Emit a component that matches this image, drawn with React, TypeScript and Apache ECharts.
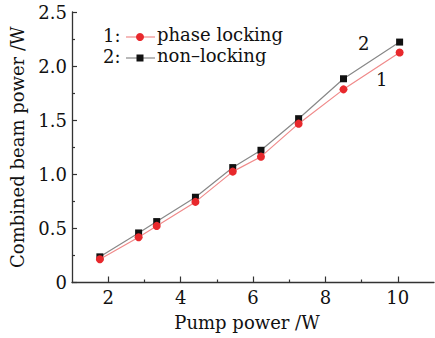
import React, { useEffect, useRef } from "react";
import * as echarts from "echarts";

const pumpPower = [1.77, 2.84, 3.34, 4.41, 5.44, 6.22, 7.26, 8.5, 10.05];
const phaseLocking = [0.215, 0.418, 0.523, 0.745, 1.025, 1.163, 1.468, 1.785, 2.126];
const nonLocking = [0.237, 0.458, 0.563, 0.788, 1.062, 1.222, 1.514, 1.883, 2.222];
const xMajorTicks = [2, 4, 6, 8, 10];
const xMinorTicks = [3, 5, 7, 9];
const legendNames = ["phase locking", "non\u2013locking"];

const FONT = "DejaVu Serif";

export default function App() {
  const ref = useRef<HTMLDivElement>(null);
  useEffect(() => {
    if (!ref.current) return;
    const chart = echarts.init(ref.current, null, { renderer: "svg" });
    const axisColor = "#333";
    chart.setOption({
      animation: false,
      backgroundColor: "#fff",
      grid: { left: 71, top: 12, right: 1, bottom: 55.5, containLabel: false },
      xAxis: [
        {
          type: "value",
          min: 1,
          max: 11,
          interval: 1,
          name: "Pump power /W",
          nameLocation: "middle",
          nameGap: 31,
          nameTextStyle: { fontFamily: FONT, fontSize: 18, color: "#111", padding: [0, 12, 0, 0] },
          axisLine: { show: true, lineStyle: { color: axisColor, width: 1.3 } },
          axisTick: { show: true, inside: true, length: 6, customValues: xMajorTicks, lineStyle: { color: axisColor, width: 1.2 } },
          axisLabel: { customValues: xMajorTicks, fontFamily: FONT, fontSize: 18, color: "#111", margin: 6 },
          splitLine: { show: false },
        },
        {
          type: "value",
          min: 1,
          max: 11,
          interval: 1,
          position: "bottom",
          axisLine: { show: false },
          axisTick: { show: true, inside: true, length: 3, customValues: xMinorTicks, lineStyle: { color: axisColor, width: 1.2 } },
          axisLabel: { show: false },
          splitLine: { show: false },
        },
      ],
      yAxis: {
        type: "value",
        min: 0,
        max: 2.5,
        interval: 0.5,
        name: "Combined beam power /W",
        nameLocation: "middle",
        nameGap: 46,
        nameTextStyle: { fontFamily: FONT, fontSize: 18, color: "#111" },
        axisLine: { show: true, lineStyle: { color: axisColor, width: 1.3 } },
        axisTick: { show: true, inside: true, length: 5, lineStyle: { color: axisColor, width: 1.2 } },
        minorTick: { show: true, splitNumber: 2, length: 3, lineStyle: { color: axisColor, width: 1.2 } },
        axisLabel: {
          fontFamily: FONT,
          fontSize: 18,
          color: "#111",
          margin: 5,
          formatter: (v: number) => (v === 0 ? "0" : v.toFixed(1)),
        },
        splitLine: { show: false },
      },
      series: [
        {
          name: legendNames[1],
          type: "line",
          data: pumpPower.map((x, i) => [x, nonLocking[i]]),
          symbol: "rect",
          symbolSize: 7,
          itemStyle: { color: "#111" },
          lineStyle: { color: "#888", width: 1.2 },
          z: 2,
        },
        {
          name: legendNames[0],
          type: "line",
          data: pumpPower.map((x, i) => [x, phaseLocking[i]]),
          symbol: "circle",
          symbolSize: 8,
          itemStyle: { color: "#e8282c" },
          lineStyle: { color: "#f08a8a", width: 1.2 },
          z: 3,
        },
      ],
      graphic: [
        { type: "text", left: 103, top: 26, style: { text: "1:", font: `18px '${FONT}'`, fill: "#111" } },
        { type: "line", shape: { x1: 126, y1: 37, x2: 155, y2: 37 }, style: { stroke: "#f08a8a", lineWidth: 1.2 } },
        { type: "circle", shape: { cx: 140, cy: 37, r: 4 }, style: { fill: "#e8282c" } },
        { type: "text", left: 157, top: 25, style: { text: legendNames[0], font: `18px '${FONT}'`, fill: "#111" } },
        { type: "text", left: 103, top: 47, style: { text: "2:", font: `18px '${FONT}'`, fill: "#111" } },
        { type: "line", shape: { x1: 126, y1: 58, x2: 155, y2: 58 }, style: { stroke: "#888", lineWidth: 1.2 } },
        { type: "rect", shape: { x: 136.5, y: 54.5, width: 7, height: 7 }, style: { fill: "#111" } },
        { type: "text", left: 157, top: 46, style: { text: legendNames[1], font: `18px '${FONT}'`, fill: "#111" } },
        { type: "text", left: 358, top: 34, style: { text: "2", font: `18px '${FONT}'`, fill: "#111" } },
        { type: "text", left: 376, top: 70, style: { text: "1", font: `18px '${FONT}'`, fill: "#111" } },
      ],
    });
    return () => chart.dispose();
  }, []);
  return <div ref={ref} style={{ width: 435, height: 338, position: "absolute", left: 0, top: 0 }} />;
}
